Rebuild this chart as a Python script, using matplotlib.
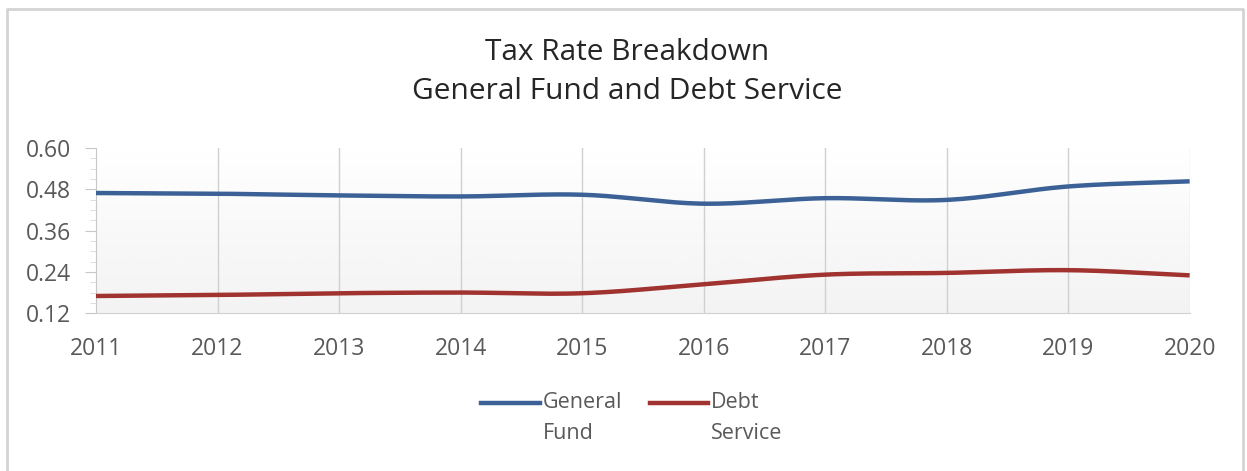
import matplotlib.pyplot as plt
import numpy as np
from matplotlib.lines import Line2D
from matplotlib.ticker import MultipleLocator

plt.rcParams['font.family'] = ['Open Sans', 'DejaVu Sans']

# values
YEARS = [2011, 2012, 2013, 2014, 2015, 2016, 2017, 2018, 2019, 2020]
GENERAL_FUND = [0.469, 0.467, 0.462, 0.459, 0.464, 0.438, 0.454, 0.449, 0.488, 0.503]
DEBT_SERVICE = [0.170, 0.173, 0.178, 0.180, 0.178, 0.204, 0.232, 0.237, 0.245, 0.230]
SERIES_LABELS = ["General\nFund", "Debt\nService"]
TITLE = "Tax Rate Breakdown\nGeneral Fund and Debt Service"

BLUE = "#3B6196"
RED = "#A0322F"
TEXT = "#595959"


def smooth(x, y, n=30):
    """Catmull-Rom curve through the points, like Excel's smoothed line."""
    x = np.asarray(x, float)
    y = np.asarray(y, float)
    px = np.concatenate([[2 * x[0] - x[1]], x, [2 * x[-1] - x[-2]]])
    py = np.concatenate([[2 * y[0] - y[1]], y, [2 * y[-1] - y[-2]]])
    xs, ys = [], []
    t = np.linspace(0, 1, n, endpoint=False)
    for i in range(1, len(px) - 2):
        for p, out in ((px, xs), (py, ys)):
            p0, p1, p2, p3 = p[i - 1], p[i], p[i + 1], p[i + 2]
            out.extend(0.5 * ((2 * p1) + (-p0 + p2) * t
                              + (2 * p0 - 5 * p1 + 4 * p2 - p3) * t ** 2
                              + (-p0 + 3 * p1 - 3 * p2 + p3) * t ** 3))
    xs.append(x[-1])
    ys.append(y[-1])
    return np.array(xs), np.array(ys)


fig = plt.figure(figsize=(12.47, 4.71), dpi=100)
W, H = 1247, 471
# outer chart border (left, top, right only; bottom is cropped off)
fig.lines.append(Line2D([7 / W, 7 / W, 1243 / W, 1243 / W], [0, 1 - 9 / H, 1 - 9 / H, 0],
                        transform=fig.transFigure, color="#d4d4d4", lw=2))

ax = fig.add_axes([0.077, 0.335, 0.877, 0.351])
x0, x1 = YEARS[0], YEARS[-1]
ax.set_xlim(x0, x1)
ax.set_ylim(0.12, 0.60)

# plot-area gradient: white at top to light grey at the bottom
ax.imshow(np.linspace(0, 1, 256).reshape(-1, 1), extent=[x0, x1, 0.12, 0.60],
          aspect="auto", cmap="Greys", vmin=0, vmax=10, origin="upper", zorder=0)

for yr in YEARS[1:-1]:
    ax.axvline(yr, color="#d0d0d0", lw=1, zorder=1)
ax.axvline(x1, color="#e0e0e0", lw=1, zorder=1)

xs, ys = smooth(YEARS, GENERAL_FUND)
ax.plot(xs, ys, color=BLUE, lw=3.2, solid_capstyle="butt", zorder=3)
xs, ys = smooth(YEARS, DEBT_SERVICE)
ax.plot(xs, ys, color=RED, lw=3.2, solid_capstyle="butt", zorder=3)

for s in ("top", "right"):
    ax.spines[s].set_visible(False)
ax.spines["left"].set_color("#c8c8c8")
ax.spines["bottom"].set_color("#d0d0d0")
ax.yaxis.set_minor_locator(MultipleLocator(0.03))
ax.set_yticks([0.12, 0.24, 0.36, 0.48, 0.60])
ax.set_yticklabels([f"{v:.2f}" for v in ax.get_yticks()])
ax.set_xticks(YEARS)
ax.set_xticklabels([str(y) for y in YEARS])
ax.tick_params(axis="y", which="major", length=8, color="#c8c8c8", labelsize=16.5,
               labelcolor=TEXT, pad=10)
ax.tick_params(axis="y", which="minor", length=4, color="#d8d8d8")
ax.tick_params(axis="x", length=0, labelsize=16.5, labelcolor=TEXT, pad=17)

fig.text(0.503, 1 - 72 / H, TITLE, ha="center", va="center", fontsize=21.5,
         color="#262626", linespacing=1.45)

# legend, handle aligned with the first text line as in the reference
leg_y = 1 - 403 / H
for lx, rx, color, label in ((481, 540, BLUE, SERIES_LABELS[0]),
                             (650, 708, RED, SERIES_LABELS[1])):
    fig.lines.append(Line2D([lx / W, rx / W], [leg_y, leg_y], transform=fig.transFigure,
                            color=color, lw=3.2))
    fig.text((rx + 3) / W, leg_y + 11 / H, label, ha="left", va="top", fontsize=15.5,
             color=TEXT, linespacing=1.6)

fig.savefig("out.png", dpi=100)
